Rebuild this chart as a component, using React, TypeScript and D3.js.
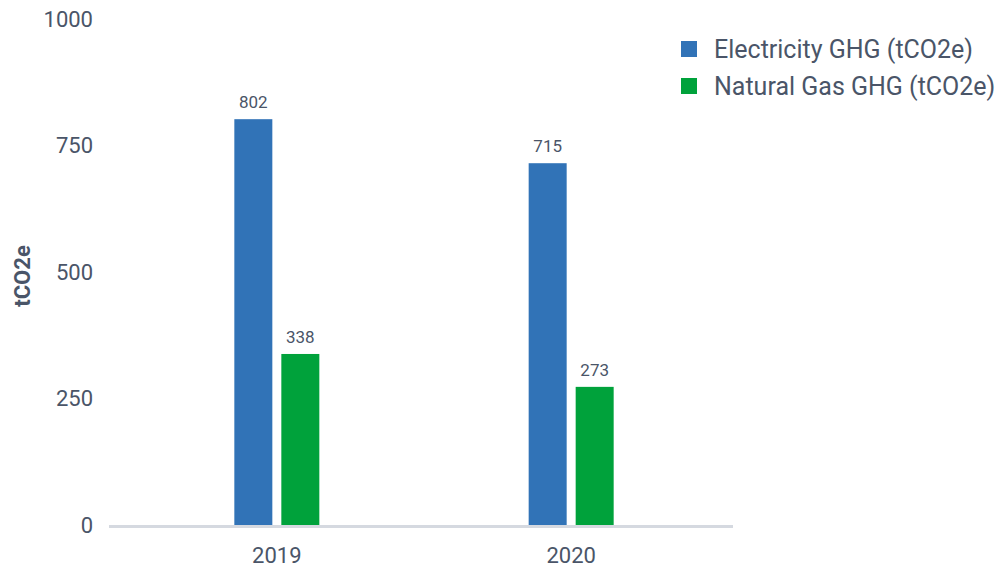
import React from "react";
import * as d3 from "d3";

const categories = ["2019", "2020"];
const seriesNames = ["Electricity GHG (tCO2e)", "Natural Gas GHG (tCO2e)"];
const electricity = [802, 715];
const naturalGas = [338, 273];
const yTicks = [0, 250, 500, 750, 1000];
const colors = ["#3173b7", "#00a23b"];

export default function App() {
  const W = 1002, H = 567;
  const x = d3.scaleBand<string>().domain(categories).range([112, 736]).paddingInner(0).paddingOuter(0.06);
  const y = d3.scaleLinear().domain([0, 1000]).range([525, 19]);
  const barW = 38, gap = 9;
  const series = [electricity, naturalGas];
  const font = "Roboto, 'Noto Sans', sans-serif";
  const textColor = "#4a5568";
  return (
    <svg width={W} height={H} style={{ position: "absolute", left: 0, top: 0, background: "#fff" }} fontFamily={font}>
      {yTicks.map((t) => (
        <text key={t} x={93} y={y(t)} dy="0.35em" textAnchor="end" fontSize={22} fill={textColor}>{t}</text>
      ))}
      <text transform={`translate(30,${y(500) + 4}) rotate(-90)`} textAnchor="middle" fontSize={22} fontWeight="bold" fill={textColor}>tCO2e</text>
      {categories.map((c, i) => {
        const cx = (x(c) as number) + x.bandwidth() / 2;
        const start = cx - (2 * barW + gap) / 2;
        return (
          <g key={c}>
            {series.map((s, j) => {
              const bx = start + j * (barW + gap);
              return (
                <g key={j}>
                  <rect x={bx} y={y(s[i])} width={barW} height={y(0) - y(s[i])} fill={colors[j]} />
                  <text x={bx + barW / 2} y={y(s[i]) - 11} textAnchor="middle" fontSize={17} fill={textColor}>{s[i]}</text>
                </g>
              );
            })}
            <text x={cx} y={555} dy="0.35em" textAnchor="middle" fontSize={22} fill={textColor}>{c}</text>
          </g>
        );
      })}
      <rect x={109} y={y(0)} width={624} height={3} fill="#d5d9e0" />
      {seriesNames.map((n, j) => (
        <g key={n} transform={`translate(681,${49 + j * 37})`}>
          <rect x={0} y={-8} width={16} height={16} fill={colors[j]} />
          <text x={33} y={0} dy="0.35em" fontSize={25} fill={textColor}>{n}</text>
        </g>
      ))}
    </svg>
  );
}
